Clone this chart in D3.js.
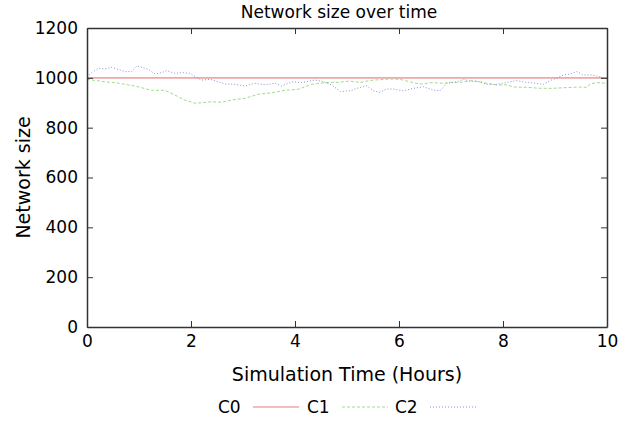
<!DOCTYPE html>
<html lang="en">
	<head>
		<meta charset="utf-8">
		<title>Network size over time</title>
		<script type="text/javascript" src="https://d3js.org/d3.v7.min.js"></script>
		<style type="text/css">
			body {
				margin: 0;
				background-color: #ffffff;
				font-family: "DejaVu Sans", Verdana, sans-serif;
			}
		</style>
	</head>
	<body>
		<script type="text/javascript">

			// Series data (time in hours, network size)
			var c0Time = [0, 10];
			var c0Size = [1000, 1000];

			var c1Time = [0, 0.35, 0.6, 0.92, 1.24, 1.5, 1.69, 1.88, 2.08, 2.2, 2.4, 2.59, 2.78, 3.04, 3.29, 3.55, 3.81, 4.06,
				4.32, 4.58, 4.83, 5.06, 5.25, 5.38, 5.51, 5.83, 6.02, 6.21, 6.4, 6.65, 6.85, 6.98, 7.17, 7.42, 7.62, 7.88,
				8.08, 8.2, 8.46, 8.71, 8.97, 9.23, 9.48, 9.62, 9.67, 9.8, 10];
			var c1Size = [994, 984, 979, 967, 950, 950, 931, 911, 898, 900, 904, 902, 911, 918, 934, 940, 950, 954,
				974, 981, 982, 987, 981, 987, 991, 995, 994, 984, 975, 981, 978, 982, 982, 989, 981, 971,
				972, 963, 962, 958, 958, 961, 963, 962, 975, 981, 978];

			var c2Time = [0, 0.09, 0.22, 0.35, 0.47, 0.6, 0.73, 0.86, 0.96, 1.05, 1.18, 1.31, 1.44, 1.53, 1.69, 1.85, 1.98,
				2.08, 2.2, 2.37, 2.53, 2.65, 2.85, 3.04, 3.23, 3.42, 3.62, 3.74, 3.94, 4.13, 4.38, 4.51, 4.71, 4.87, 5.06,
				5.19, 5.38, 5.51, 5.63, 5.76, 5.89, 6.08, 6.28, 6.47, 6.66, 6.79, 6.92, 7.11, 7.24, 7.37, 7.56, 7.69,
				7.88, 8.07, 8.26, 8.46, 8.65, 8.78, 8.9, 9.03, 9.16, 9.29, 9.42, 9.54, 9.67, 9.8, 10];
			var c2Size = [1005, 1021, 1038, 1036, 1042, 1034, 1025, 1025, 1048, 1042, 1034, 1015, 1021, 1029, 1018, 1021, 1018,
				1005, 991, 994, 984, 975, 974, 967, 978, 972, 978, 967, 984, 981, 991, 987, 971, 945, 948,
				958, 968, 948, 942, 955, 955, 948, 958, 964, 951, 948, 978, 984, 994, 987, 984, 974,
				974, 981, 989, 981, 978, 974, 989, 998, 1011, 1015, 1025, 1011, 1012, 1008, 996];

			var seriesNames = ["C0", "C1", "C2"];
			var xTicks = [0, 2, 4, 6, 8, 10];
			var yTicks = [0, 200, 400, 600, 800, 1000, 1200];

			var w = 624;
			var h = 421;
			var margin = {left: 87, right: 17, top: 28, bottom: 94};

			var x = d3.scaleLinear().domain([0, 10]).range([margin.left, w - margin.right]);
			var y = d3.scaleLinear().domain([0, 1200]).range([h - margin.bottom, margin.top]);

			var svg = d3.select("body")
				.append("svg")
				.attr("width", w)
				.attr("height", h);

			var series = [
				{name: seriesNames[0], t: c0Time, v: c0Size, color: "#f2a6a6", width: 1.6, dash: null},
				{name: seriesNames[1], t: c1Time, v: c1Size, color: "#9edc8e", width: 1, dash: "3,2"},
				{name: seriesNames[2], t: c2Time, v: c2Size, color: "#8c8ed4", width: 1, dash: "1,2"}
			];

			var line = d3.line()
				.x(function(d) { return x(d[0]); })
				.y(function(d) { return y(d[1]); });

			svg.selectAll("path.series")
				.data(series)
				.enter()
				.append("path")
				.attr("class", "series")
				.attr("d", function(s) { return line(s.t.map(function(t, i) { return [t, s.v[i]]; })); })
				.attr("fill", "none")
				.attr("stroke", function(s) { return s.color; })
				.attr("stroke-width", function(s) { return s.width; })
				.attr("stroke-dasharray", function(s) { return s.dash; });

			// Axes with inward ticks, mirrored on top and right
			var axisColor = "#333";
			var fmt = d3.format("d");
			var axBottom = svg.append("g")
				.attr("transform", "translate(0," + y(0) + ")")
				.call(d3.axisBottom(x).tickValues(xTicks).tickFormat(fmt).tickSizeInner(-6).tickSizeOuter(0).tickPadding(8));
			var axLeft = svg.append("g")
				.attr("transform", "translate(" + x(0) + ",0)")
				.call(d3.axisLeft(y).tickValues(yTicks).tickFormat(fmt).tickSizeInner(-6).tickSizeOuter(0).tickPadding(9));
			var axTop = svg.append("g")
				.attr("transform", "translate(0," + y(1200) + ")")
				.call(d3.axisTop(x).tickValues(xTicks).tickSizeInner(-6).tickSizeOuter(0).tickFormat(""));
			var axRight = svg.append("g")
				.attr("transform", "translate(" + x(10) + ",0)")
				.call(d3.axisRight(y).tickValues(yTicks).tickSizeInner(-6).tickSizeOuter(0).tickFormat(""));

			[axBottom, axLeft, axTop, axRight].forEach(function(a) {
				a.selectAll(".domain").attr("stroke", axisColor).attr("stroke-width", 1.5);
				a.selectAll(".tick line").attr("stroke", axisColor);
				a.selectAll("text").attr("font-family", "DejaVu Sans").attr("font-size", "17px").attr("fill", "#000");
			});

			// Titles
			svg.append("text")
				.attr("x", 339)
				.attr("y", 18)
				.attr("text-anchor", "middle")
				.attr("font-size", "17px")
				.text("Network size over time");

			svg.append("text")
				.attr("x", (x(0) + x(10)) / 2)
				.attr("y", 381)
				.attr("text-anchor", "middle")
				.attr("font-size", "19px")
				.text("Simulation Time (Hours)");

			svg.append("text")
				.attr("transform", "translate(30," + (y(0) + y(1200)) / 2 + ") rotate(-90)")
				.attr("text-anchor", "middle")
				.attr("font-size", "19px")
				.text("Network size");

			// Legend
			var legendX = [218, 307, 395];
			var legend = svg.selectAll("g.legend")
				.data(series)
				.enter()
				.append("g")
				.attr("class", "legend")
				.attr("transform", function(d, i) { return "translate(" + legendX[i] + ",407)"; });

			legend.append("text")
				.attr("y", 6)
				.attr("font-size", "17px")
				.text(function(d) { return d.name; });
			legend.append("line")
				.attr("x1", 35).attr("x2", 81)
				.attr("stroke", function(d) { return d.color; })
				.attr("stroke-width", function(d) { return d.width; })
				.attr("stroke-dasharray", function(d) { return d.dash; });
		</script>
	</body>
</html>
